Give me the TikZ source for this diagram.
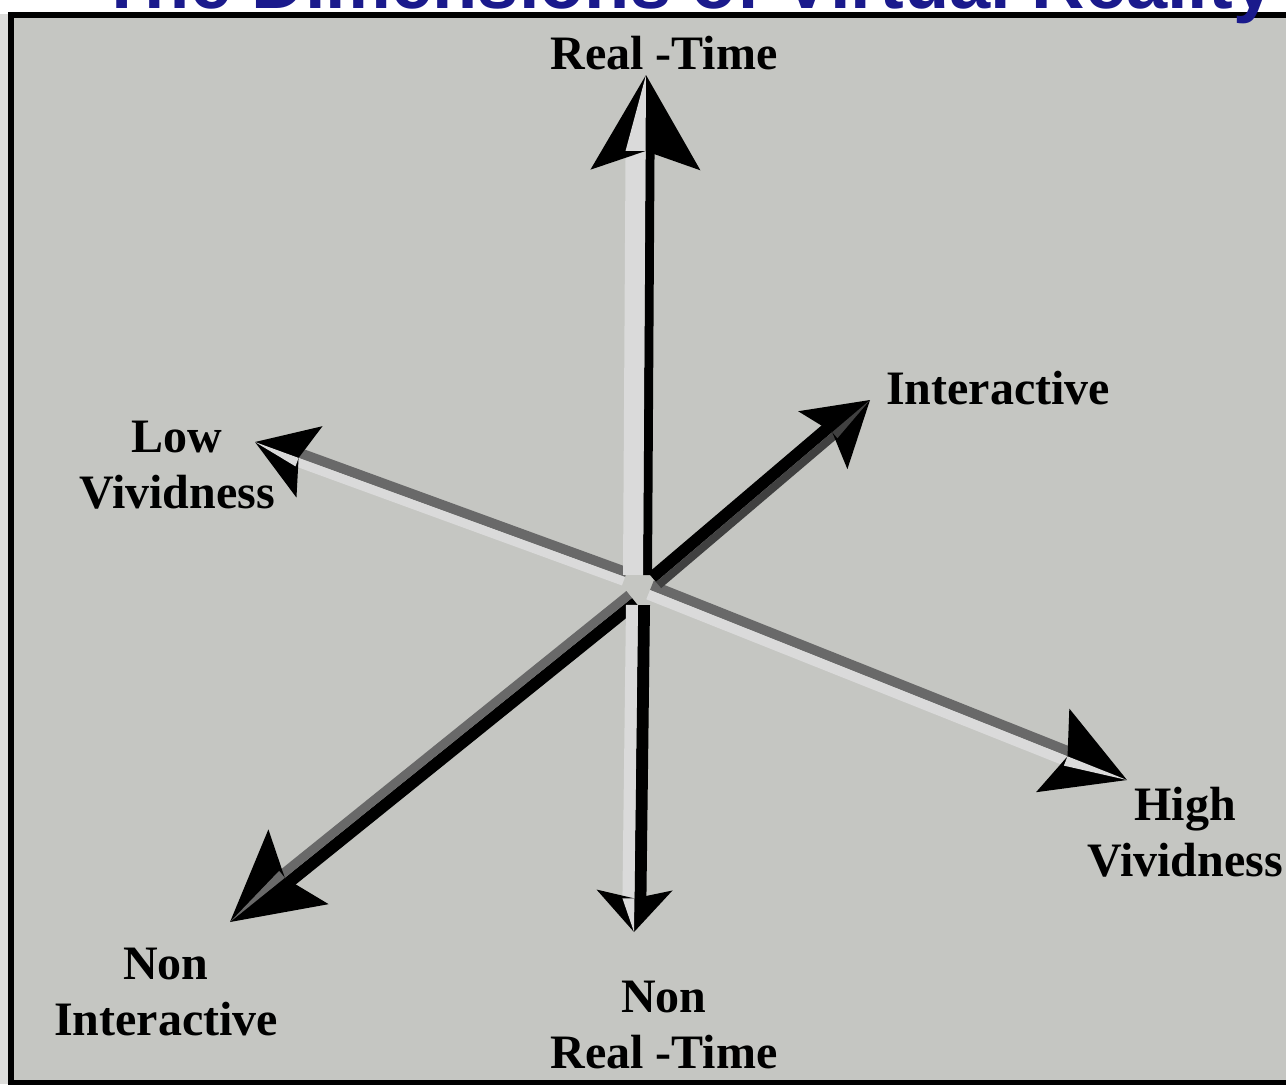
\documentclass[tikz,border=0pt]{standalone}
\usepackage{fontspec}
\setmainfont{Liberation Serif}
\newfontfamily\titlefont{Liberation Sans}
\usetikzlibrary{calc}
\definecolor{vrBg}    {RGB}{197,198,194}
\definecolor{vrMargin}{RGB}{220,220,218}
\definecolor{vrLight} {RGB}{218,218,218}
\definecolor{vrDark}  {RGB}{105,105,105}
\definecolor{vrTitle} {RGB}{26, 26,140}

\tikzset{
  axislabel/.style={font=\fontsize{24}{28}\selectfont\bfseries,
                    align=center,inner sep=0pt},
}

% seta 3D: inicio, ponta, cabeca (comp., meia larg.), faixas, lado, cores
\newcommand{\vrarrow}[9]{%
  \coordinate (hb) at ($(#2)!#3*0.5pt!(#1)$);
  \coordinate (hn) at ($(#2)!#3*0.4pt!(#1)$);
  \fill[#8] (#1) -- ($(#1)!#7*#5*0.5pt!90:(#2)$)
    -- ($(hn)!#7*#5*0.5pt!-90:(#1)$) -- (hn) -- cycle;
  \fill[#9] (#1) -- ($(#1)!#7*#6*0.5pt!-90:(#2)$)
    -- ($(hn)!#7*#6*0.5pt!90:(#1)$) -- (hn) -- cycle;
  \fill[black] (#2) -- ($(hb)!#4*0.5pt!90:(#2)$) -- (hn)
    -- ($(hb)!#4*0.5pt!-90:(#2)$) -- cycle;
  \fill[#9] (#2) -- ($(hn)!#7*#6*0.5pt!90:(#1)$) -- (hn) -- cycle;
}

\begin{document}
\begin{tikzpicture}[x=0.5pt,y=-0.5pt]
  \useasboundingbox (0,0) rectangle (1286,1084);
  % Fundo e moldura
  \fill[white] (0,0) rectangle (1286,1084);
  \fill[vrMargin] (0,14) rectangle (1286,1084);
  \draw[fill=vrBg,line width=3pt] (11,15) rectangle (1292,1083);
  \node[font=\titlefont\fontsize{37}{40}\selectfont\bfseries,vrTitle,
        anchor=base] (title) at (687,8) {The Dimensions of Virtual Reality};

  % Centro e pontas dos eixos
  \coordinate (upS)  at (643,575);  \coordinate (upT)  at (646,75);
  \coordinate (dnS)  at (638,605);  \coordinate (dnT)  at (634,932);
  \coordinate (lowS) at (625,577);  \coordinate (lowT) at (255,442);
  \coordinate (hiS)  at (650,590);  \coordinate (hiT)  at (1127,780);
  \coordinate (inS)  at (656,582);  \coordinate (inT)  at (870,400);
  \coordinate (niS)  at (632,598);  \coordinate (niT)  at (230,922);

  % Eixos
  \vrarrow{lowS}{lowT}{58}{38}{10}{9}{-1}{vrDark}{vrLight}
  \vrarrow{hiS}{hiT}{80}{45}{10}{10}{1}{vrDark}{vrLight}
  \vrarrow{inS}{inT}{62}{38}{12}{8}{1}{black}{black!75}
  \vrarrow{niS}{niT}{88}{48}{12}{9}{1}{black}{vrDark}
  \vrarrow{upS}{upT}{95}{55}{9}{20}{-1}{black}{vrLight}
  \vrarrow{dnS}{dnT}{42}{38}{12}{12}{1}{black}{vrLight}

  % Rotulos
  \node[axislabel] (realtime) at (664,53)  {Real -Time};
  \node[axislabel] (inter)    at (998,388) {Interactive};
  \node[axislabel] (lowviv)   at (177,465) {Low\\Vividness};
  \node[axislabel] (highviv)  at (1185,832){High\\Vividness};
  \node[axislabel] (noninter) at (166,992) {Non\\Interactive};
  \node[axislabel] (nonreal)  at (664,1025){Non\\Real -Time};
\end{tikzpicture}
\end{document}
